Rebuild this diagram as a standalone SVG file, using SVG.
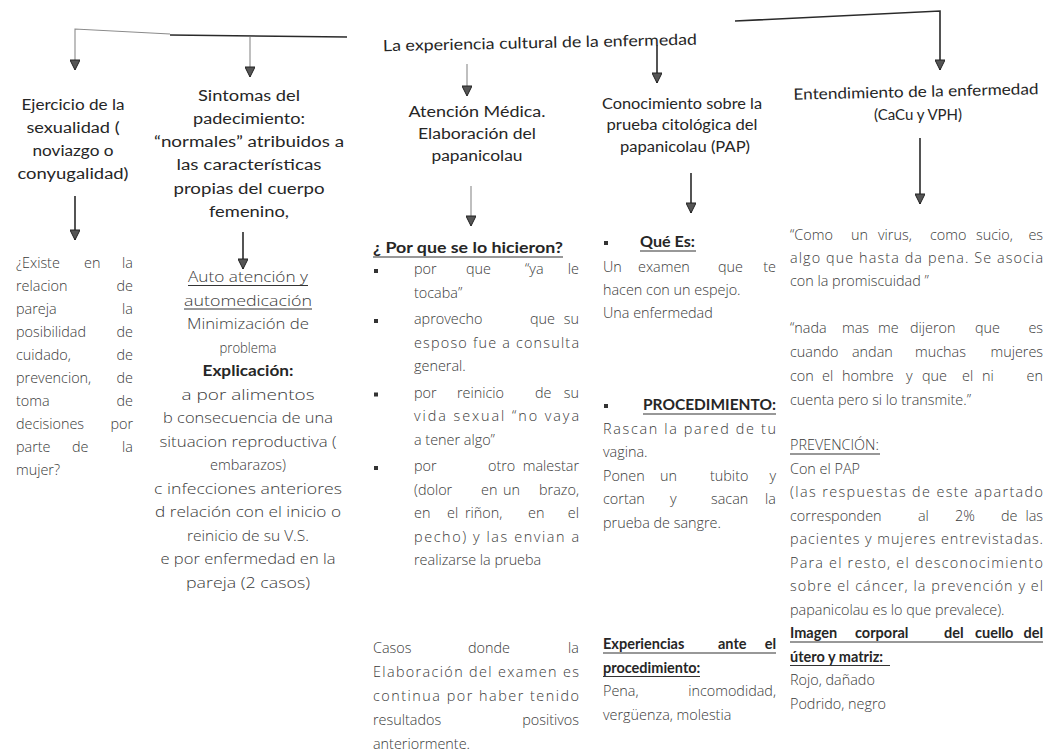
<svg xmlns="http://www.w3.org/2000/svg" width="1054" height="754" viewBox="0 0 1054 754">
<defs>
<style>
.h{font-family:Lato,"Liberation Sans",sans-serif;font-size:15.5px;fill:#262626}
.b{font-family:"Open Sans","Liberation Sans",sans-serif;font-size:14.4px;font-weight:300;fill:#3a3a3a}
.bb{font-family:Lato,"Liberation Sans",sans-serif;font-size:14.5px;font-weight:700;fill:#262626}
.c{text-anchor:middle}
.e{text-anchor:end}
.ul{stroke:#333;stroke-width:1.2}
.bul{fill:#333}
.cn{fill:none;stroke:#2a2a2a;stroke-width:1.6}
.cl{fill:none;stroke:#8a8a8a;stroke-width:1.1}
</style>
<marker id="ah" viewBox="0 0 10 10" refX="10" refY="5" markerWidth="12" markerHeight="10" markerUnits="userSpaceOnUse" orient="auto">
<path d="M0,0 L10,5 L0,10 Z" fill="#555" stroke="#222" stroke-width="1"/>
</marker>
</defs>
<rect width="1054" height="754" fill="#ffffff"/>

<g id="connectors">
<path class="cl" d="M170,34 L75,29 L75,70" marker-end="url(#ah)"/>
<path class="cn" d="M170,35 L347,37" stroke-width="2.2"/>
<path class="cl" d="M250,37 L250,77" marker-end="url(#ah)"/>
<path class="cl" d="M467,64 L467,96" marker-end="url(#ah)"/>
<path class="cn" d="M657,45 L657,83" marker-end="url(#ah)"/>
<path class="cn" d="M735,21 L940,11 L940,70" marker-end="url(#ah)"/>
<path class="cn" d="M75,196 L75,240" marker-end="url(#ah)"/>
<path class="cn" d="M243,232 L243,269" marker-end="url(#ah)"/>
<path class="cl" d="M471,186 L471,226" marker-end="url(#ah)"/>
<path class="cn" d="M691,173 L691,213" marker-end="url(#ah)"/>
<path class="cn" d="M920,138 L920,204" marker-end="url(#ah)"/>
</g>

<g id="title">
<text class="h c" x="540" y="48" textLength="314" lengthAdjust="spacingAndGlyphs" transform="rotate(-1.2 540 44)">La experiencia cultural de la enfermedad</text>
</g>

<g id="n-sexualidad">
<text class="h c" x="73" y="110" textLength="103" lengthAdjust="spacingAndGlyphs">Ejercicio de la</text>
<text class="h c" x="73" y="133" textLength="93" lengthAdjust="spacingAndGlyphs">sexualidad (</text>
<text class="h c" x="73" y="156" textLength="81" lengthAdjust="spacingAndGlyphs">noviazgo o</text>
<text class="h c" x="73" y="179" textLength="111" lengthAdjust="spacingAndGlyphs">conyugalidad)</text>
</g>

<g id="n-sexualidad-body">
<text class="b" x="16" y="268">¿Existe</text><text class="b" x="84" y="268">en</text><text class="b e" x="133" y="268">la</text>
<text class="b" x="16" y="291">relacion</text><text class="b e" x="133" y="291">de</text>
<text class="b" x="16" y="314">pareja</text><text class="b e" x="133" y="314">la</text>
<text class="b" x="16" y="337">posibilidad</text><text class="b e" x="133" y="337">de</text>
<text class="b" x="16" y="360">cuidado,</text><text class="b e" x="133" y="360">de</text>
<text class="b" x="16" y="383">prevencion,</text><text class="b e" x="133" y="383">de</text>
<text class="b" x="16" y="406">toma</text><text class="b e" x="133" y="406">de</text>
<text class="b" x="16" y="429">decisiones</text><text class="b e" x="133" y="429">por</text>
<text class="b" x="16" y="452">parte</text><text class="b" x="72" y="452">de</text><text class="b e" x="133" y="452">la</text>
<text class="b" x="16" y="475">mujer?</text>
</g>

<g id="n-sintomas">
<text class="h c" x="249" y="101" textLength="102" lengthAdjust="spacingAndGlyphs">Sintomas del</text>
<text class="h c" x="249" y="124" textLength="112" lengthAdjust="spacingAndGlyphs">padecimiento:</text>
<text class="h c" x="249" y="147" textLength="190" lengthAdjust="spacingAndGlyphs">“normales” atribuidos a</text>
<text class="h c" x="249" y="170" textLength="145" lengthAdjust="spacingAndGlyphs">las características</text>
<text class="h c" x="249" y="194" textLength="151" lengthAdjust="spacingAndGlyphs">propias del cuerpo</text>
<text class="h c" x="249" y="217" textLength="80" lengthAdjust="spacingAndGlyphs">femenino,</text>
</g>

<g id="n-sintomas-body">
<text class="b c" x="248" y="282" textLength="120" lengthAdjust="spacingAndGlyphs">Auto atención y</text>
<line class="ul" x1="188" y1="285.5" x2="308" y2="285.5"/>
<text class="b c" x="248" y="305.5" textLength="128" lengthAdjust="spacingAndGlyphs">automedicación</text>
<line class="ul" x1="184" y1="309" x2="312" y2="309"/>
<text class="b c" x="248" y="329" textLength="122" lengthAdjust="spacingAndGlyphs">Minimización de</text>
<text class="b c" x="248" y="352.5" textLength="57" lengthAdjust="spacingAndGlyphs">problema</text>
<text class="bb c" x="248" y="376" textLength="91" lengthAdjust="spacingAndGlyphs">Explicación:</text>
<text class="b c" x="248" y="399.5" textLength="133" lengthAdjust="spacingAndGlyphs">a  por alimentos</text>
<text class="b c" x="248" y="423" textLength="170" lengthAdjust="spacingAndGlyphs">b  consecuencia de una</text>
<text class="b c" x="248" y="446.5" textLength="177" lengthAdjust="spacingAndGlyphs">situacion reproductiva (</text>
<text class="b c" x="248" y="470" textLength="76" lengthAdjust="spacingAndGlyphs">embarazos)</text>
<text class="b c" x="248" y="493.5" textLength="188" lengthAdjust="spacingAndGlyphs">c  infecciones anteriores</text>
<text class="b c" x="248" y="517" textLength="186" lengthAdjust="spacingAndGlyphs">d  relación con el inicio o</text>
<text class="b c" x="248" y="540.5" textLength="122" lengthAdjust="spacingAndGlyphs">reinicio de su V.S.</text>
<text class="b c" x="248" y="564" textLength="175" lengthAdjust="spacingAndGlyphs">e  por enfermedad en la</text>
<text class="b c" x="248" y="587.5" textLength="124" lengthAdjust="spacingAndGlyphs">pareja (2 casos)</text>
</g>

<g id="n-atencion">
<text class="h c" x="477" y="117" textLength="137" lengthAdjust="spacingAndGlyphs">Atención Médica.</text>
<text class="h c" x="477" y="139" textLength="118" lengthAdjust="spacingAndGlyphs">Elaboración del</text>
<text class="h c" x="477" y="161" textLength="91" lengthAdjust="spacingAndGlyphs">papanicolau</text>
</g>

<g id="n-atencion-body">
<text class="bb" x="373" y="253" textLength="190" lengthAdjust="spacingAndGlyphs">¿ Por que se lo hicieron?</text>
<line class="ul" x1="373" y1="257" x2="563" y2="257"/>
<rect class="bul" x="374" y="269" width="4" height="4"/>
<text class="b" x="414" y="274">por</text><text class="b" x="466" y="274">que</text><text class="b" x="525" y="274">“ya</text><text class="b e" x="579" y="274">le</text>
<text class="b" x="414" y="297.5">tocaba”</text>
<rect class="bul" x="374" y="319" width="4" height="4"/>
<text class="b" x="414" y="324">aprovecho</text><text class="b" x="530" y="324">que</text><text class="b e" x="579" y="324">su</text>
<text class="b" x="414" y="347.5" textLength="165" lengthAdjust="spacing">esposo fue a consulta</text>
<text class="b" x="414" y="371">general.</text>
<rect class="bul" x="374" y="392.5" width="4" height="4"/>
<text class="b" x="414" y="397.5">por</text><text class="b" x="457" y="397.5">reinicio</text><text class="b" x="535" y="397.5">de</text><text class="b e" x="579" y="397.5">su</text>
<text class="b" x="414" y="421" textLength="165" lengthAdjust="spacing">vida sexual “no vaya</text>
<text class="b" x="414" y="444.5">a tener algo”</text>
<rect class="bul" x="374" y="466" width="4" height="4"/>
<text class="b" x="414" y="471">por</text><text class="b" x="488" y="471">otro</text><text class="b e" x="579" y="471">malestar</text>
<text class="b" x="414" y="494.5">(dolor</text><text class="b" x="481" y="494.5">en</text><text class="b" x="503" y="494.5">un</text><text class="b e" x="579" y="494.5">brazo,</text>
<text class="b" x="414" y="518">en</text><text class="b" x="447" y="518">el</text><text class="b" x="465" y="518">riñon,</text><text class="b" x="528" y="518">en</text><text class="b e" x="579" y="518">el</text>
<text class="b" x="414" y="541.5" textLength="165" lengthAdjust="spacing">pecho) y las envian a</text>
<text class="b" x="414" y="565">realizarse la prueba</text>
</g>

<g id="n-casos">
<text class="b" x="373" y="653">Casos</text><text class="b" x="468" y="653">donde</text><text class="b e" x="579" y="653">la</text>
<text class="b" x="373" y="677" textLength="206" lengthAdjust="spacing">Elaboración del examen es</text>
<text class="b" x="373" y="701" textLength="206" lengthAdjust="spacing">continua por haber tenido</text>
<text class="b" x="373" y="725">resultados</text><text class="b e" x="579" y="725">positivos</text>
<text class="b" x="373" y="749">anteriormente.</text>
</g>

<g id="n-conocimiento">
<text class="h c" x="682" y="109" textLength="160" lengthAdjust="spacingAndGlyphs">Conocimiento sobre la</text>
<text class="h c" x="682" y="130" textLength="151" lengthAdjust="spacingAndGlyphs">prueba citológica del</text>
<text class="h c" x="685" y="152" textLength="130" lengthAdjust="spacingAndGlyphs">papanicolau (PAP)</text>
</g>

<g id="n-conocimiento-body">
<rect class="bul" x="604" y="241" width="4" height="4"/>
<text class="bb" x="640" y="247" textLength="55" lengthAdjust="spacingAndGlyphs">Qué Es:</text>
<line class="ul" x1="640" y1="251" x2="696" y2="251"/>
<text class="b" x="603" y="272">Un</text><text class="b" x="638" y="272">examen</text><text class="b" x="718" y="272">que</text><text class="b e" x="776" y="272">te</text>
<text class="b" x="603" y="295">hacen con un espejo.</text>
<text class="b" x="603" y="318">Una enfermedad</text>
<rect class="bul" x="604" y="404" width="4" height="4"/>
<text class="bb e" x="776" y="410" textLength="133" lengthAdjust="spacingAndGlyphs">PROCEDIMIENTO:</text>
<line class="ul" x1="643" y1="414" x2="776" y2="414"/>
<text class="b" x="603" y="433.5" textLength="173" lengthAdjust="spacing">Rascan la pared de tu</text>
<text class="b" x="603" y="457">vagina.</text>
<text class="b" x="603" y="480.5">Ponen</text><text class="b" x="660" y="480.5">un</text><text class="b" x="710" y="480.5">tubito</text><text class="b e" x="776" y="480.5">y</text>
<text class="b" x="603" y="504">cortan</text><text class="b" x="670" y="504">y</text><text class="b" x="711" y="504">sacan</text><text class="b e" x="776" y="504">la</text>
<text class="b" x="603" y="527.5">prueba de sangre.</text>
</g>

<g id="n-experiencias">
<text class="bb" x="603" y="649">Experiencias</text><text class="bb" x="718" y="649">ante</text><text class="bb e" x="776" y="649">el</text>
<line class="ul" x1="603" y1="653" x2="776" y2="653"/>
<text class="bb" x="603" y="672.5">procedimiento:</text>
<line class="ul" x1="603" y1="676.5" x2="700" y2="676.5"/>
<text class="b" x="603" y="696">Pena,</text><text class="b e" x="776" y="696">incomodidad,</text>
<text class="b" x="603" y="719.5">vergüenza, molestia</text>
</g>

<g id="n-entendimiento">
<text class="h c" x="916" y="97" textLength="245" lengthAdjust="spacingAndGlyphs" transform="rotate(-1.3 916 93)">Entendimiento de la enfermedad</text>
<text class="h c" x="918" y="120" textLength="88" lengthAdjust="spacingAndGlyphs">(CaCu y VPH)</text>
</g>

<g id="n-entendimiento-body">
<text class="b" x="790" y="240">“Como</text><text class="b" x="851" y="240">un</text><text class="b" x="878" y="240">virus,</text><text class="b" x="930" y="240">como</text><text class="b" x="976" y="240">sucio,</text><text class="b e" x="1043" y="240">es</text>
<text class="b" x="790" y="263" textLength="253" lengthAdjust="spacing">algo que hasta da pena. Se asocia</text>
<text class="b" x="790" y="286">con la promiscuidad ”</text>
<text class="b" x="790" y="333">“nada</text><text class="b" x="842" y="333">mas</text><text class="b" x="878" y="333">me</text><text class="b" x="910" y="333">dijeron</text><text class="b" x="975" y="333">que</text><text class="b e" x="1043" y="333">es</text>
<text class="b" x="790" y="357">cuando</text><text class="b" x="852" y="357">andan</text><text class="b" x="915" y="357">muchas</text><text class="b e" x="1043" y="357">mujeres</text>
<text class="b" x="790" y="381">con</text><text class="b" x="822" y="381">el</text><text class="b" x="842" y="381">hombre</text><text class="b" x="906" y="381">y</text><text class="b" x="922" y="381">que</text><text class="b" x="962" y="381">el</text><text class="b" x="982" y="381">ni</text><text class="b e" x="1043" y="381">en</text>
<text class="b" x="790" y="405">cuenta pero si lo transmite.”</text>
<text class="b" x="790" y="450">PREVENCIÓN:</text>
<line class="ul" x1="790" y1="454" x2="880" y2="454"/>
<text class="b" x="790" y="473.5">Con el PAP</text>
<text class="b" x="790" y="497" textLength="253" lengthAdjust="spacing">(las respuestas de este apartado</text>
<text class="b" x="790" y="520.5">corresponden</text><text class="b" x="918" y="520.5">al</text><text class="b" x="955" y="520.5">2%</text><text class="b" x="1001" y="520.5">de</text><text class="b e" x="1043" y="520.5">las</text>
<text class="b" x="790" y="544" textLength="253" lengthAdjust="spacing">pacientes y mujeres entrevistadas.</text>
<text class="b" x="790" y="567.5" textLength="253" lengthAdjust="spacing">Para el resto, el desconocimiento</text>
<text class="b" x="790" y="591" textLength="253" lengthAdjust="spacing">sobre el cáncer, la prevención y el</text>
<text class="b" x="790" y="614.5">papanicolau es lo que prevalece).</text>
<text class="bb" x="790" y="638">Imagen</text><text class="bb" x="855" y="638">corporal</text><text class="bb" x="944" y="638">del</text><text class="bb" x="975" y="638">cuello</text><text class="bb e" x="1043" y="638">del</text>
<line class="ul" x1="790" y1="642" x2="1043" y2="642"/>
<text class="bb" x="790" y="661.5">útero y matriz:</text>
<line class="ul" x1="790" y1="665.5" x2="890" y2="665.5"/>
<text class="b" x="790" y="685">Rojo, dañado</text>
<text class="b" x="790" y="708.5">Podrido, negro</text>
</g>
</svg>
